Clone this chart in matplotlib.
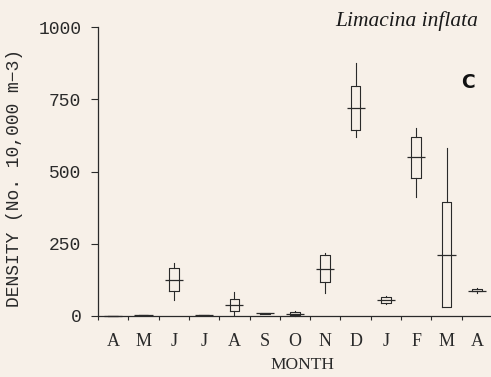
import numpy as np
import matplotlib
matplotlib.use("Agg")
import matplotlib.pyplot as plt

months = ['A', 'M', 'J', 'J', 'A', 'S', 'O', 'N', 'D', 'J', 'F', 'M', 'A']
med    = [0, 2, 125, 2, 37, 9, 7, 162, 720, 54, 551, 211, 88]
q1     = [0, 2, 88, 2, 17, 8, 2, 119, 644, 44, 478, 31, 85]
q3     = [0, 2, 165, 2, 58, 10, 14, 211, 797, 67, 620, 395, 92]
whislo = [0, 2, 55, 2, 3, 8, 0, 79, 619, 42, 413, 31, 80]
whishi = [0, 2, 182, 2, 84, 10, 17, 219, 875, 69, 652, 581, 98]
yticks = [0, 250, 500, 750, 1000]

bg = '#f7f0e8'
ink = '#2a2a2a'

fig = plt.figure(figsize=(4.91, 3.77), dpi=100, facecolor=bg)
ax = fig.add_axes([98/491, 1-316/377, (492-98)/491, 289/377], facecolor=bg)

pos = np.arange(len(months)) + 0.5
stats = [dict(med=m, q1=a, q3=b, whislo=lo, whishi=hi, fliers=[])
         for m, a, b, lo, hi in zip(med, q1, q3, whislo, whishi)]
art = ax.bxp(stats, positions=pos, widths=0.32, showcaps=False, showfliers=False,
             boxprops=dict(color=ink, linewidth=0.8),
             whiskerprops=dict(color=ink, linewidth=0.8),
             medianprops=dict(linewidth=0), manage_ticks=False)
for k in art:
    for a in art[k]:
        a.set_clip_on(False)
ax.hlines(med, pos - 0.3, pos + 0.3, color=ink, linewidth=0.9, clip_on=False)

ax.set_xlim(0, 13)
ax.set_ylim(0, 1000)
for s in ['top', 'right']:
    ax.spines[s].set_visible(False)
for s in ['left', 'bottom']:
    ax.spines[s].set_color(ink)
    ax.spines[s].set_linewidth(0.9)

ax.set_yticks(yticks)
ax.set_yticklabels([str(v) for v in yticks], family='Liberation Mono', fontsize=13, color=ink)
ax.tick_params(axis='y', direction='out', length=5, width=0.8, color=ink, pad=7)

ax.set_xticks(pos)
ax.set_xticklabels(months, family='Liberation Serif', fontsize=13, color=ink)
ax.set_xticks(np.arange(14), minor=True)
ax.tick_params(axis='x', which='major', length=0, pad=12)
ax.tick_params(axis='x', which='minor', direction='out', length=3, width=0.8, color=ink)

ax.set_xlabel('MONTH', family='Liberation Serif', fontsize=12.5, color=ink)
ax.xaxis.set_label_coords((302-98)/394, (316-365)/289)
ax.xaxis.label.set_va('center')

ax.set_ylabel('DENSITY (No. 10,000 m\u22123)', family='Liberation Mono', fontsize=13, color=ink)
ax.yaxis.set_label_coords((14-98)/394, (316-178)/289)
ax.yaxis.label.set_va('center')

fig.text(478/491, 1-26/377, 'Limacina inflata', family='Liberation Serif', style='italic',
         fontsize=15.5, color='#1a1a1a', ha='right', va='baseline')
fig.text(468/491, 1-83/377, 'C', family='DejaVu Sans', weight='bold',
         fontsize=13.5, color='#111111', ha='center', va='center')

fig.savefig('out.png', dpi=100, facecolor=bg)
